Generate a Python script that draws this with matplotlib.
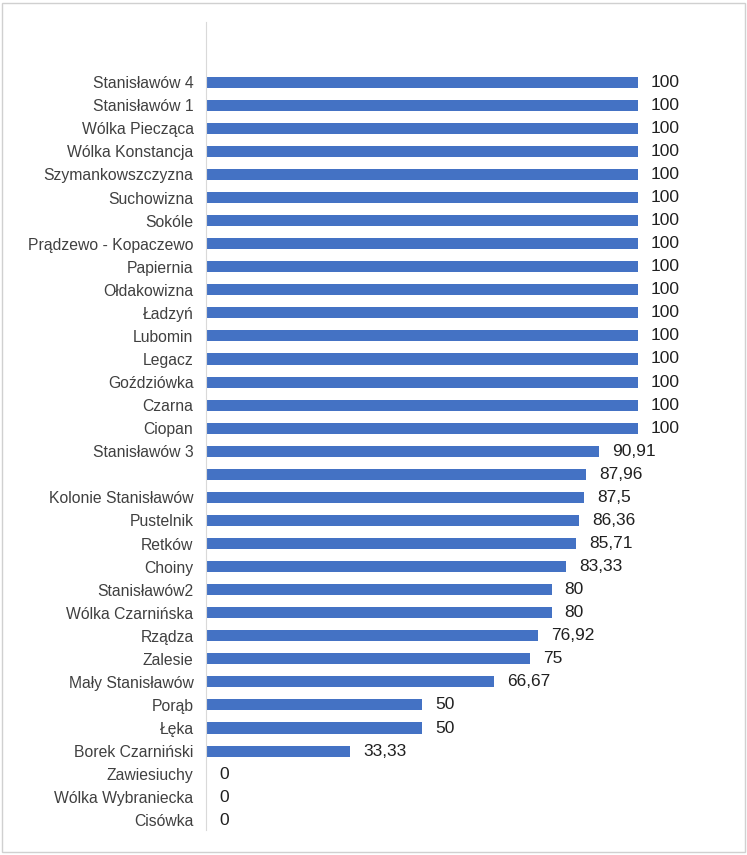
import matplotlib
matplotlib.use("Agg")
import matplotlib.pyplot as plt
from matplotlib.patches import Rectangle

categories = ["Stanisławów 4","Stanisławów 1","Wólka Piecząca","Wólka Konstancja","Szymankowszczyzna",
 "Suchowizna","Sokóle","Prądzewo - Kopaczewo","Papiernia","Ołdakowizna","Ładzyń","Lubomin","Legacz",
 "Goździówka","Czarna","Ciopan","Stanisławów 3","","Kolonie Stanisławów","Pustelnik","Retków","Choiny",
 "Stanisławów2","Wólka Czarnińska","Rządza","Zalesie","Mały Stanisławów","Porąb","Łęka","Borek Czarniński",
 "Zawiesiuchy","Wólka Wybraniecka","Cisówka"]
values = [100]*16 + [90.91,87.96,87.5,86.36,85.71,83.33,80,80,76.92,75,66.67,50,50,33.33,0,0,0]
value_labels = ["100"]*16 + ["90,91","87,96","87,5","86,36","85,71","83,33","80","80","76,92","75","66,67","50","50","33,33","0","0","0"]

fig = plt.figure(figsize=(7.47,8.55), dpi=100)
fig.patches.append(Rectangle((0.003,0.003),0.994,0.994,transform=fig.transFigure,fill=False,edgecolor="#d0d0d0",lw=1))
ax = fig.add_axes([206/747, 0.029, (638-206)/747, 0.974-0.029])
n = len(categories)
ys = [n-1-i for i in range(n)]
ax.barh(ys, values, height=0.48, color="#4472C4")
for y, v, t in zip(ys, values, value_labels):
    ax.text(v+3.0, y, t, va="center", ha="left", fontsize=12.5, color="#202020", fontfamily="Liberation Sans", clip_on=False)
ax.set_yticks(ys)
ax.set_yticklabels(categories, fontsize=11.3, color="#404040", fontfamily="Liberation Sans")
ax.tick_params(axis="y", length=0, pad=9)
ax.set_xticks([])
ax.set_xlim(0,100)
ax.set_ylim(-0.43, n-1+2.6)
for s in ["top","right","bottom"]:
    ax.spines[s].set_visible(False)
ax.spines["left"].set_color("#d9d9d9")
fig.savefig("out.png", dpi=100)
